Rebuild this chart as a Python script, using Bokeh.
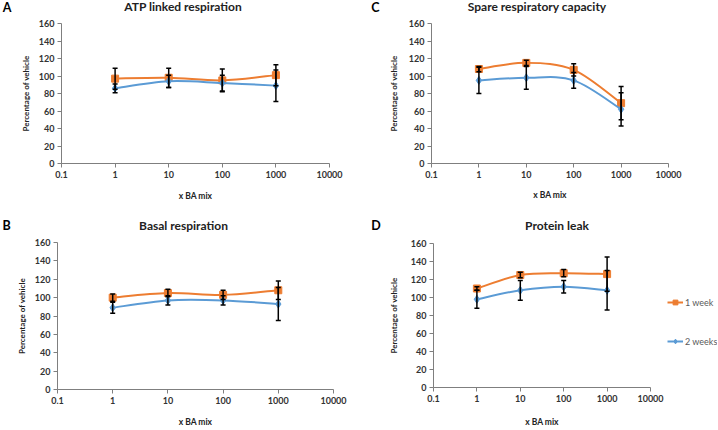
import math
from bokeh.plotting import figure
from bokeh.models import (ColumnDataSource, Whisker, TeeHead, Legend, LegendItem, Div,
                          FixedTicker, CustomJSTickFormatter, Range1d)
from bokeh.layouts import column, row
from bokeh.embed import file_html
from bokeh.resources import INLINE

# ---------------- data ----------------
doses = [1, 10, 100, 1000]
x_ticks = [0.1, 1, 10, 100, 1000, 10000]
x_tick_labels = ["0.1", "1", "10", "100", "1000", "10000"]
y_ticks = [0, 20, 40, 60, 80, 100, 120, 140, 160]
series_names = ["1 week", "2 weeks"]

atp_1wk = [97, 98, 95, 101]
atp_1wk_err = [12, 11, 13, 12]
atp_2wk = [86, 94, 92, 89]
atp_2wk_err = [5, 7, 9, 18]

spare_1wk = [108, 115, 107, 69]
spare_1wk_err = [3, 3, 7, 19]
spare_2wk = [95, 98, 95, 62]
spare_2wk_err = [15, 13, 9, 19]

basal_1wk = [100, 105, 103, 108]
basal_1wk_err = [4, 4, 5, 10]
basal_2wk = [89, 97, 97, 93]
basal_2wk_err = [6, 5, 5, 18]

leak_1wk = [110, 125, 127, 126]
leak_1wk_err = [2, 3, 4, 19]
leak_2wk = [98, 108, 112, 108]
leak_2wk_err = [10, 11, 7, 22]

# ---------------- styling / layout ----------------
ORANGE = "#ED7D31"
BLUE = "#5B9BD5"
FONT = "Lato"
STYLES = [(ORANGE, "square", 7), (BLUE, "diamond", 8)]


def smooth_segments(xs, ys):
    lx = [math.log10(v) for v in xs]
    n = len(xs)
    out = dict(x0=[], y0=[], x1=[], y1=[], cx0=[], cy0=[], cx1=[], cy1=[])
    for i in range(n - 1):
        a = max(i - 1, 0)
        d = min(i + 2, n - 1)
        c1x = lx[i] + (lx[i + 1] - lx[a]) / 6
        c1y = ys[i] + (ys[i + 1] - ys[a]) / 6
        c2x = lx[i + 1] - (lx[d] - lx[i]) / 6
        c2y = ys[i + 1] - (ys[d] - ys[i]) / 6
        out["x0"].append(xs[i]); out["y0"].append(ys[i])
        out["x1"].append(xs[i + 1]); out["y1"].append(ys[i + 1])
        out["cx0"].append(10 ** c1x); out["cy0"].append(c1y)
        out["cx1"].append(10 ** c2x); out["cy1"].append(c2y)
    return out


def header(width, height, letter, letter_pos, title, title_pos):
    lx, ly = letter_pos
    tx, ty = title_pos
    html = (
        f'<div style="position:relative;width:{width}px;height:{height}px;'
        f'font-family:{FONT};font-weight:bold;margin:0;padding:0;">'
        f'<span style="position:absolute;left:{lx}px;top:{ly - 7}px;line-height:14px;'
        f'font-size:12.5px;color:#000;transform:translateX(-50%);">{letter}</span>'
        f'<span style="position:absolute;left:{tx}px;top:{ty - 7}px;line-height:14px;'
        f'font-size:12px;color:#222;white-space:nowrap;transform:translateX(-50%);">{title}</span>'
        '</div>'
    )
    return Div(text=html, width=width, height=height, margin=0)


def make_panel(size, band, borders, ylab_standoff, xlab_standoff, s1, e1, s2, e2):
    w, h = size
    bl, br, bt, bb = borders
    p = figure(width=w, height=h - band, x_axis_type="log", title=None,
               x_range=Range1d(0.1, 10000), y_range=Range1d(0, 160),
               output_backend="svg", toolbar_location=None, tools="",
               min_border_left=bl, min_border_right=br,
               min_border_top=bt, min_border_bottom=bb)
    p.outline_line_color = None
    p.grid.visible = False
    p.background_fill_color = "white"
    p.border_fill_color = "white"

    p.xaxis.ticker = FixedTicker(ticks=x_ticks)
    p.xaxis.formatter = CustomJSTickFormatter(
        args=dict(tvals=x_ticks, tlabels=x_tick_labels),
        code="""const i = tvals.findIndex(t => Math.abs(Math.log10(t) - Math.log10(tick)) < 1e-6);
                return i >= 0 ? tlabels[i] : "";""")
    p.yaxis.ticker = FixedTicker(ticks=y_ticks)
    for ax in (p.xaxis, p.yaxis):
        ax.axis_line_color = "#7f7f7f"
        ax.major_tick_line_color = "#7f7f7f"
        ax.minor_tick_line_color = None
        ax.major_tick_in = 0
        ax.major_tick_out = 4
        ax.major_label_text_font = FONT
        ax.major_label_text_font_style = "bold"
        ax.major_label_text_font_size = "9px"
        ax.major_label_text_color = "#333333"
        ax.major_label_standoff = 3
        ax.axis_label_text_font = FONT
        ax.axis_label_text_font_style = "bold"
        ax.axis_label_text_color = "#222222"
    p.yaxis.axis_label = "Percentage of vehicle"
    p.yaxis.axis_label_text_font_size = "8px"
    p.yaxis.axis_label_standoff = ylab_standoff
    p.xaxis.axis_label = "x BA mix"
    p.xaxis.axis_label_text_font_size = "8.5px"
    p.xaxis.axis_label_standoff = xlab_standoff

    for ys, (col, mk, sz) in zip((s1, s2), STYLES):
        seg = smooth_segments(doses, ys)
        p.bezier(x0="x0", y0="y0", x1="x1", y1="y1", cx0="cx0", cy0="cy0", cx1="cx1", cy1="cy1",
                 source=ColumnDataSource(seg), line_color=col, line_width=2)
        p.scatter(doses, ys, marker=mk, size=sz, fill_color=col, line_color=col)
    for ys, es in ((s1, e1), (s2, e2)):
        src = ColumnDataSource(dict(x=doses, up=[v + e for v, e in zip(ys, es)],
                                    lo=[v - e for v, e in zip(ys, es)]))
        wk = Whisker(source=src, base="x", upper="up", lower="lo", dimension="height",
                     line_color="black", line_width=1.5, level="overlay",
                     upper_head=TeeHead(size=5, line_color="black", line_width=1.5),
                     lower_head=TeeHead(size=5, line_color="black", line_width=1.5))
        p.add_layout(wk)
    return p


def legend_fig(width, height, loc, s1, s2):
    # legend-only plot: proxy renderers carry the series data but lie outside its ranges
    q = figure(width=width, height=height, x_range=Range1d(-2, -1), y_range=Range1d(-2, -1),
               output_backend="svg", toolbar_location=None, tools="", title=None,
               min_border=0, min_border_left=0, min_border_right=0,
               min_border_top=0, min_border_bottom=0)
    q.axis.visible = False
    q.grid.visible = False
    q.outline_line_color = None
    items = []
    for name, ys, (col, mk, sz) in zip(series_names, (s1, s2), STYLES):
        lr = q.line(doses, ys, line_color=col, line_width=2)
        sr = q.scatter(doses, ys, marker=mk, size=sz, fill_color=col, line_color=col)
        items.append(LegendItem(label=name, renderers=[lr, sr]))
    leg = Legend(items=items, location=loc, orientation="vertical",
                 spacing=27, padding=0, margin=0, glyph_width=16, glyph_height=12,
                 label_height=12, label_standoff=2,
                 label_text_font=FONT, label_text_font_size="9px", label_text_color="#595959",
                 border_line_alpha=0, background_fill_alpha=0)
    q.add_layout(leg)
    return q


# panel A (top-left) and C (top-right): header band 16 px
hA = header(359, 16, "A", (7, 7.5), "ATP linked respiration", (183, 7))
pA = make_panel((359, 215), 16, (61, 30, 7, 52), 5, 10, atp_1wk, atp_1wk_err, atp_2wk, atp_2wk_err)
hC = header(358, 16, "C", (16.5, 7.5), "Spare respiratory capacity", (178, 7))
pC = make_panel((358, 215), 16, (72, 49, 7, 52), 7, 9, spare_1wk, spare_1wk_err, spare_2wk, spare_2wk_err)
# panel B (bottom-left) and D (bottom-right): header band 18 px
hB = header(359, 18, "B", (6.5, 10.5), "Basal respiration", (183.5, 10.7))
pB = make_panel((359, 214), 18, (57, 26, 9, 37), 5, 10, basal_1wk, basal_1wk_err, basal_2wk, basal_2wk_err)
hD = header(358, 18, "D", (17, 11), "Protein leak", (198, 10.7))
pD = make_panel((308, 214), 18, (74, 17, 10, 40), 9, 12, leak_1wk, leak_1wk_err, leak_2wk, leak_2wk_err)
pL = legend_fig(50, 196, (0, 40), leak_1wk, leak_2wk)

layout = column(row(column(hA, pA), column(hC, pC)),
                row(column(hB, pB), column(hD, row(pD, pL))))
open("out.html", "w").write(file_html(layout, INLINE))
